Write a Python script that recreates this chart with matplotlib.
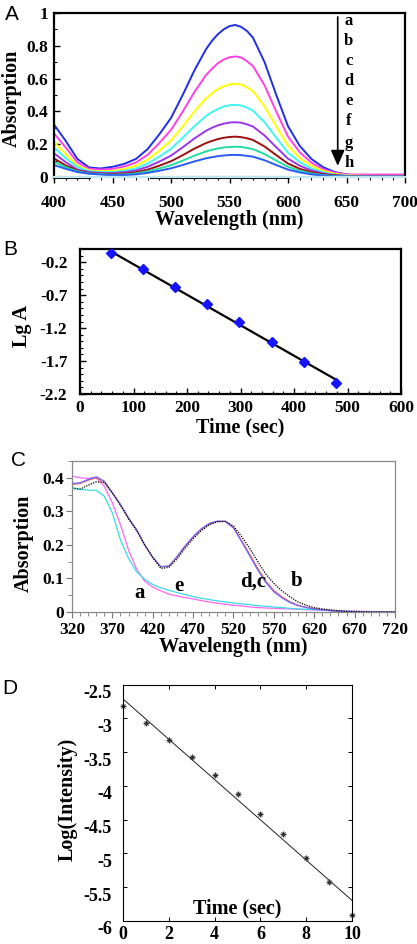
import matplotlib
matplotlib.use("Agg")
import matplotlib.pyplot as plt
from matplotlib.ticker import MultipleLocator, FixedLocator, FuncFormatter
from matplotlib.transforms import ScaledTranslation

# ---- data ----
# A: absorption spectra a..h
wl_a = [400, 410, 420, 430, 440, 450, 460, 470, 480, 490, 500, 510, 520, 530, 535, 540, 545,
        550, 555, 560, 565, 570, 580, 590, 600, 610, 620, 630, 640, 650, 660, 680, 700]
abs_a_blue = [.32, .22, .11, .058, .052, .062, .08, .11, .17, .26, .36, .50, .65, .78, .83, .87, .90,
              .92, .927, .915, .89, .85, .70, .50, .31, .19, .11, .06, .03, .015, .01, .01, .01]
abs_b_magenta = [.266, .18, .09, .05, .045, .05, .064, .088, .135, .207, .287, .398, .518, .622, .66, .693, .716,
                 .73, .735, .729, .706, .677, .558, .398, .247, .151, .088, .048, .026, .016, .015, .015, .015]
abs_c_yellow = [.215, .14, .07, .04, .035, .038, .049, .068, .105, .16, .222, .308, .40, .48, .51, .536, .553,
                .565, .568, .564, .546, .524, .431, .308, .191, .117, .068, .037, .02, .01, .008, .005, .005]
abs_d_cyan = [.179, .115, .06, .035, .03, .03, .038, .052, .081, .124, .172, .239, .31, .372, .396, .415, .429,
              .438, .44, .436, .423, .405, .334, .239, .148, .091, .052, .029, .014, .008, .003, 0, 0]
abs_e_purple = [.145, .09, .045, .03, .025, .024, .029, .04, .062, .094, .13, .181, .235, .282, .30, .315, .325,
                .332, .334, .331, .321, .308, .253, .181, .112, .069, .04, .022, .011, .006, .004, .003, .003]
abs_f_brown = [.114, .07, .04, .025, .02, .018, .021, .029, .045, .069, .096, .133, .173, .207, .22, .231, .239,
               .244, .246, .243, .236, .226, .186, .133, .082, .05, .03, .017, .01, .006, .004, .003, .003]
abs_g_teal = [.093, .06, .035, .022, .018, .014, .016, .022, .034, .052, .072, .10, .13, .156, .166, .174, .18,
              .183, .185, .183, .177, .17, .14, .10, .062, .038, .022, .012, .006, .004, .003, .002, .002]
abs_h_blue = [.073, .05, .03, .02, .015, .011, .012, .016, .025, .038, .053, .073, .095, .114, .121, .127, .131,
              .134, .135, .133, .129, .124, .102, .073, .045, .028, .016, .009, .004, .003, .002, .002, .002]
series_a = [abs_a_blue, abs_b_magenta, abs_c_yellow, abs_d_cyan,
            abs_e_purple, abs_f_brown, abs_g_teal, abs_h_blue]
colors_a = ["#1f2fe6", "#ff40e6", "#ffff00", "#3ff6f6", "#9a36ea", "#9c1010", "#22dca0", "#2a5cf4"]
letters_a = ["a", "b", "c", "d", "e", "f", "g", "h"]
letters_a_y = [0.953, 0.83, 0.707, 0.585, 0.465, 0.34, 0.21, 0.087]
baseline_a_nm = [400, 430, None, 483, 600]

# B: Lg A versus time
time_b = [58, 118, 178, 238, 298, 358, 418, 478]
lga_b = [-0.056, -0.31, -0.58, -0.83, -1.10, -1.41, -1.71, -2.03]
fit_time_b = [62, 478]
fit_lga_b = [-0.056, -1.98]

# C: absorption spectra a..e
wl_c = [320, 330, 340, 350, 360, 370, 380, 390, 400, 410, 420, 430, 440, 450, 460, 470, 480, 490,
        500, 510, 520, 530, 540, 550, 560, 570, 580, 590, 600, 610, 620, 640, 660, 680, 700, 720]
abs_c_d = [.383, .385, .395, .403, .39, .355, .32, .28, .245, .2, .163, .135, .137, .165, .197, .225, .248, .264,
           .271, .27, .25, .21, .168, .125, .088, .06, .042, .028, .019, .013, .009, .004, .001, 0, 0, 0]
abs_c_c = [.38, .383, .393, .40, .388, .355, .32, .28, .245, .2, .163, .135, .137, .163, .195, .223, .246, .262,
           .27, .27, .252, .213, .172, .13, .092, .064, .045, .03, .02, .014, .01, .004, .001, 0, 0, 0]
abs_c_b = [.368, .366, .378, .388, .386, .355, .318, .278, .243, .2, .162, .13, .133, .158, .19, .218, .242, .26,
           .269, .27, .256, .225, .19, .15, .113, .085, .063, .045, .03, .02, .013, .006, .002, .001, 0, 0]
abs_c_a = [.405, .40, .398, .40, .375, .325, .26, .185, .128, .092, .074, .063, .053, .048, .043, .039, .034, .03,
           .026, .023, .02, .018, .015, .013, .012, .011, .01, .009, .008, .007, .006, .005, .003, .002, .001, 0]
abs_c_e = [.371, .366, .363, .363, .345, .295, .215, .16, .12, .097, .082, .072, .065, .058, .052, .046, .041, .037,
           .033, .03, .027, .024, .022, .019, .017, .015, .013, .011, .009, .008, .007, .004, .002, .001, 0, 0]
labels_c = ["a", "e", "d,c", "b"]
labels_c_x = [404, 452, 544, 598]
labels_c_y = [0.058, 0.076, 0.091, 0.091]
ticks_c = [320, 370, 420, 470, 520, 570, 620, 670, 720]

# D: Log(Intensity) versus time
time_d = [0, 1, 2, 3, 4, 5, 6, 7, 8, 9, 10]
logi_d = [-2.815, -3.07, -3.32, -3.58, -3.845, -4.12, -4.41, -4.71, -5.07, -5.43, -5.91]
fit_time_d = [0, 10]
fit_logi_d = [-2.714, -5.695]

# ---- figure ----
plt.rcParams["font.family"] = ["Liberation Serif", "DejaVu Serif"]
plt.rcParams["font.weight"] = "bold"
plt.rcParams["axes.labelweight"] = "bold"
plt.rcParams["axes.unicode_minus"] = False

W, H = 417, 944
fig = plt.figure(figsize=(W / 100, H / 100), dpi=100)
gfmt = FuncFormatter(lambda v, p: "%g" % round(v, 6))
TICK = 12.5
LAB = 14.5


def axes_at(left, right, top, bottom):
    return fig.add_axes([left / W, 1 - bottom / H, (right - left) / W, (bottom - top) / H])


def shift(text, dx, dy):
    text.set_transform(text.get_transform() + ScaledTranslation(dx / 100, dy / 100, fig.dpi_scale_trans))


def bold_ticks(ax):
    for t in ax.get_xticklabels() + ax.get_yticklabels():
        t.set_fontweight("bold")


def panel_letter(x, y, s):
    fig.text(x / W, 1 - y / H, s, family="Liberation Sans", weight="normal",
             fontsize=15, ha="center", va="center")


# Panel A
axA = axes_at(54, 405, 13, 177)
axA.plot([baseline_a_nm[0], baseline_a_nm[1]], [0, 0], color="black", lw=2.2, clip_on=False, zorder=1)
axA.plot([baseline_a_nm[3], baseline_a_nm[4]], [0, 0], color="black", lw=2.2, clip_on=False, zorder=1)
for vals, col in zip(series_a, colors_a):
    axA.plot(wl_a, vals, color=col, lw=1.4, zorder=2)
axA.set_xlim(400, 700)
axA.set_ylim(0, 1)
axA.xaxis.set_major_locator(MultipleLocator(50))
axA.xaxis.set_minor_locator(MultipleLocator(10))
axA.yaxis.set_major_locator(MultipleLocator(0.2))
axA.yaxis.set_minor_locator(MultipleLocator(0.1))
axA.xaxis.set_major_formatter(gfmt)
axA.yaxis.set_major_formatter(gfmt)
axA.tick_params(axis="x", which="both", direction="out", labelsize=TICK, pad=9)
axA.tick_params(axis="x", which="major", length=4, width=1)
axA.tick_params(axis="x", which="minor", length=2, width=0.8)
axA.tick_params(axis="y", which="both", direction="in", labelsize=TICK, pad=4)
axA.tick_params(axis="y", which="major", length=4, width=1)
axA.tick_params(axis="y", which="minor", length=2, width=0.8)
for side in ("top", "left", "right"):
    axA.spines[side].set_linewidth(1.6)
axA.spines["bottom"].set_color("#bfe6ee")
axA.spines["bottom"].set_linewidth(1.6)
axA.annotate("", xy=(642.5, 0.068), xytext=(642.5, 0.976),
             arrowprops=dict(arrowstyle="-|>,head_length=0.95,head_width=0.42",
                             color="black", lw=1.2, shrinkA=0, shrinkB=0, mutation_scale=10))
for s, yv in zip(letters_a, letters_a_y):
    axA.text(652, yv, s, fontsize=12, fontweight="bold", ha="center", va="center")
axA.set_xlabel("Wavelength (nm)", fontsize=LAB, fontweight="bold", va="center")
axA.xaxis.set_label_coords(0.5, -0.262)
axA.set_ylabel("Absorption", fontsize=LAB, fontweight="bold", va="center")
axA.yaxis.set_label_coords(-0.12, 0.48)
fig.canvas.draw()
bold_ticks(axA)
shift(axA.get_xticklabels()[-1], -10, 0)
panel_letter(11.5, 14.5, "A")

# Panel B
axB = axes_at(80, 401, 249, 394)
axB.plot(fit_time_b, fit_lga_b, color="black", lw=1.6, zorder=2)
axB.plot(time_b, lga_b, linestyle="None", marker="D", markersize=5, color="#1414ff", zorder=3)
axB.set_xlim(0, 600)
axB.set_ylim(-2.2, 0.0)
axB.xaxis.set_major_locator(MultipleLocator(100))
axB.xaxis.set_minor_locator(MultipleLocator(20))
axB.yaxis.set_major_locator(FixedLocator([-2.2, -1.7, -1.2, -0.7, -0.2]))
axB.yaxis.set_minor_locator(FixedLocator([-2.2 + 0.1 * i for i in range(23)]))
axB.xaxis.set_major_formatter(gfmt)
axB.yaxis.set_major_formatter(gfmt)
axB.tick_params(which="both", direction="in", labelsize=TICK)
axB.tick_params(axis="x", pad=4)
axB.tick_params(axis="y", pad=9)
axB.tick_params(which="major", length=4, width=1)
axB.tick_params(which="minor", length=2, width=0.8)
for side in axB.spines:
    axB.spines[side].set_linewidth(1.6)
axB.set_xlabel("Time (sec)", fontsize=LAB, fontweight="bold", va="center")
axB.xaxis.set_label_coords(0.5, -0.234)
axB.set_ylabel("Lg A", fontsize=LAB, fontweight="bold", va="center")
axB.yaxis.set_label_coords(-0.18, 0.466)
fig.canvas.draw()
bold_ticks(axB)
panel_letter(10.5, 249.5, "B")

# Panel C
axC = axes_at(72, 395, 461, 612)
axC.plot(wl_c, abs_c_a, color="#ff66f0", lw=0.9)
axC.plot(wl_c, abs_c_e, color="#38dce6", lw=0.9)
axC.plot(wl_c, abs_c_c, color="#ff5a4a", lw=0.9)
axC.plot(wl_c, abs_c_d, color="#6a6aff", lw=0.9)
axC.plot(wl_c, abs_c_b, color="black", lw=0.9, linestyle=(0, (1, 1)))
for s, xv, yv in zip(labels_c, labels_c_x, labels_c_y):
    axC.text(xv, yv, s, fontsize=15, fontweight="bold", ha="center", va="center")
axC.set_xlim(320, 720)
axC.set_ylim(0, 0.45)
axC.xaxis.set_major_locator(FixedLocator(ticks_c))
axC.xaxis.set_minor_locator(MultipleLocator(10))
axC.yaxis.set_major_locator(MultipleLocator(0.1))
axC.yaxis.set_minor_locator(MultipleLocator(0.05))
axC.xaxis.set_major_formatter(gfmt)
axC.yaxis.set_major_formatter(gfmt)
axC.tick_params(which="both", direction="out", labelsize=TICK, color="#777777")
axC.tick_params(axis="x", pad=3)
axC.tick_params(axis="y", pad=1.5)
axC.tick_params(which="major", length=4, width=0.8)
axC.tick_params(which="minor", length=3, width=0.6)
for side in axC.spines:
    axC.spines[side].set_linewidth(0.9)
    axC.spines[side].set_color("#888888")
axC.set_xlabel("Wavelength (nm)", fontsize=LAB, fontweight="bold", va="center")
axC.xaxis.set_label_coords(0.5, -0.232)
axC.set_ylabel("Absorption", fontsize=LAB, fontweight="bold", va="center")
axC.yaxis.set_label_coords(-0.149, 0.454)
fig.canvas.draw()
bold_ticks(axC)
panel_letter(19, 460, "C")

# Panel D
axD = axes_at(123, 352, 684.5, 921)
axD.plot(fit_time_d, fit_logi_d, color="#222222", lw=0.7)
axD.plot(time_d, logi_d, linestyle="None", marker="+", markersize=5, mew=0.8, color="#333333", clip_on=False)
axD.plot(time_d, logi_d, linestyle="None", marker="x", markersize=3.5, mew=0.8, color="#333333", clip_on=False)
axD.set_xlim(0, 10)
axD.set_ylim(-6, -2.5)
axD.xaxis.set_major_locator(MultipleLocator(2))
axD.yaxis.set_major_locator(MultipleLocator(0.5))
axD.xaxis.set_major_formatter(gfmt)
axD.yaxis.set_major_formatter(gfmt)
axD.tick_params(which="both", direction="in", labelsize=13, length=3, width=0.7,
                top=True, right=True)
axD.tick_params(axis="x", pad=3.5)
axD.tick_params(axis="y", pad=8)
for side in axD.spines:
    axD.spines[side].set_linewidth(0.8)
axD.set_xlabel("Time (sec)", fontsize=LAB, fontweight="bold", va="center")
axD.xaxis.set_label_coords(0.5, 0.055)
axD.set_ylabel("Log(Intensity)", fontsize=LAB, fontweight="bold", va="center")
axD.yaxis.set_label_coords(-0.24, 0.516)
fig.canvas.draw()
bold_ticks(axD)
ylabs = axD.get_yticklabels()
for t in ylabs:
    shift(t, 0, -7)
shift(ylabs[0], 0, -4)
panel_letter(10, 688, "D")

fig.savefig("out.png", dpi=100)
